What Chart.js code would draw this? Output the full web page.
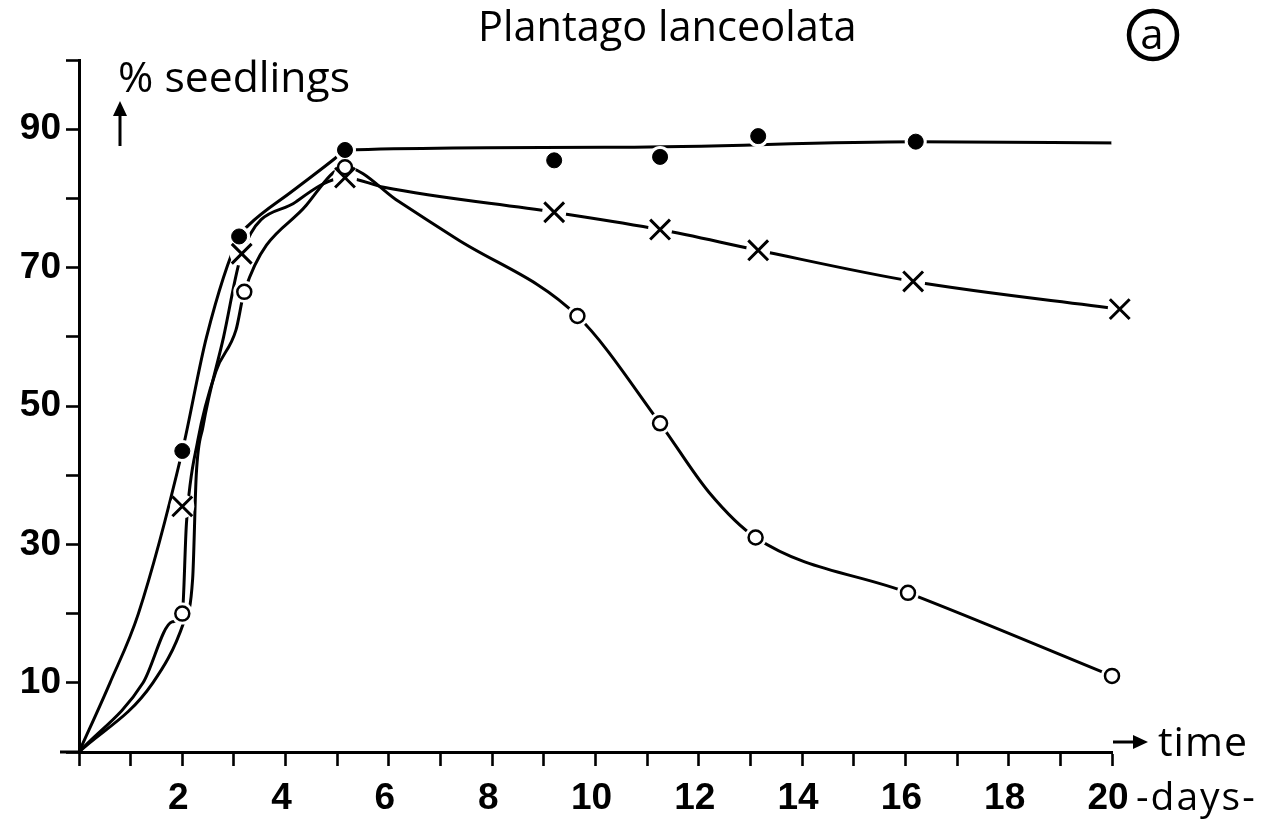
<!DOCTYPE html>
<html>
<head>
<meta charset="utf-8">
<title>Plantago lanceolata</title>
<script src="https://cdn.jsdelivr.net/npm/chart.js@4.4.1/dist/chart.umd.min.js"></script>
<style>
    html, body { margin: 0; padding: 0; background: #fff; }
    #wrap { width: 1275px; height: 830px; }
</style>
</head>
<body>
<div id="wrap"><canvas id="seedChart" width="1275" height="830"></canvas></div>
<script>
const filledDays = [2.0, 3.1, 5.15, 9.2, 11.25, 13.15, 16.2, 20.2];
const filledPct  = [43.5, 74.5, 87, 85.5, 86, 89, 88.2, 88];
const crossDays  = [2.0, 3.15, 5.15, 9.2, 11.25, 13.15, 16.15, 20.15];
const crossPct   = [35.5, 72, 83, 78, 75.5, 72.5, 68, 64];
const openDays   = [2.0, 3.2, 5.15, 9.65, 11.25, 13.1, 16.05, 20.0];
const openPct    = [20, 66.5, 84.5, 63, 47.5, 31, 23, 11];

// the hand-drawn curves (they start at the origin)
const filledCurveDays = [0, 0.6, 1.15, 2.0, 2.47, 3.1, 3.28, 4.14, 4.96, 5.15, 10.5, 16.2, 20.2];
const filledCurvePct  = [0, 10, 20, 43.5, 60, 74.5, 76.1, 81.1, 85.8, 87, 87.4, 88.2, 88];
const crossCurveDays  = [0, 1.43, 2.03, 2.2, 2.27, 2.4, 2.8, 3.15, 4.2, 5.15, 5.9, 9.2, 11.25, 13.15, 16.15, 20.15];
const crossCurvePct   = [0, 10, 18.8, 25, 40, 47, 60, 72, 79.5, 83, 81.6, 78, 75.5, 72.5, 68, 64];
const openCurveDays   = [0, 1.24, 1.8, 2.0, 2.08, 2.3, 2.65, 3.04, 3.2, 4.4, 5.15, 6.2, 7.3, 9.65, 11.25, 12.2, 13.1, 16.05, 20.0];
const openCurvePct    = [0, 10, 18.8, 20, 33, 45, 55, 61, 66.5, 79, 84.5, 79.5, 74.2, 63, 47.5, 37.5, 31, 23, 11];

const yLabelled = [10, 30, 50, 70, 90];
const xLabelled = [2, 4, 6, 8, 10, 12, 14, 16, 18, 20];

const toXY = (xs, ys) => xs.map((x, i) => ({ x: x, y: ys[i] }));

const curve = (xs, ys) => ({
    data: toXY(xs, ys),
    showLine: true,
    borderColor: '#000',
    borderWidth: 3,
    pointRadius: 0,
    cubicInterpolationMode: 'monotone',
    clip: false,
    order: 3
});

// white discs under the markers, so the lines stop short of them like in the print
const halo = (xs, ys, r) => ({
    data: toXY(xs, ys),
    pointRadius: r,
    pointBackgroundColor: '#fff',
    pointBorderWidth: 0,
    clip: false,
    order: 2
});

function fitFont(ctx, text, width, weight, family) {
    ctx.font = weight + ' 100px ' + family;
    const w = ctx.measureText(text).width;
    return weight + ' ' + (100 * width / w).toFixed(1) + 'px ' + family;
}

const annotations = {
    id: 'annotations',
    afterDraw(chart) {
        const ctx = chart.ctx;
        const fam = '"Open Sans", sans-serif';
        const x0 = chart.scales.x.getPixelForValue(0);
        const y0 = chart.scales.y.getPixelForValue(0);
        ctx.save();
        ctx.fillStyle = '#000';
        ctx.strokeStyle = '#000';
        ctx.textBaseline = 'alphabetic';
        ctx.textAlign = 'left';

        // x axis runs a little past the y axis on the left
        ctx.lineWidth = 3;
        ctx.beginPath();
        ctx.moveTo(60, y0);
        ctx.lineTo(x0, y0);
        ctx.stroke();

        // title
        ctx.font = fitFont(ctx, 'Plantago lanceolata', 379, 'normal', fam);
        ctx.fillText('Plantago lanceolata', 478, 41);

        // y axis label
        ctx.font = fitFont(ctx, '% seedlings', 232, 'normal', fam);
        ctx.fillText('% seedlings', 118, 92);

        // up arrow
        ctx.beginPath();
        ctx.moveTo(120, 146);
        ctx.lineTo(120, 112);
        ctx.stroke();
        ctx.beginPath();
        ctx.moveTo(120, 101);
        ctx.lineTo(127, 116);
        ctx.lineTo(113, 116);
        ctx.closePath();
        ctx.fill();

        // time arrow + label
        ctx.beginPath();
        ctx.moveTo(1113, 742);
        ctx.lineTo(1136, 742);
        ctx.stroke();
        ctx.beginPath();
        ctx.moveTo(1148, 742);
        ctx.lineTo(1133, 735);
        ctx.lineTo(1133, 749);
        ctx.closePath();
        ctx.fill();
        ctx.font = 'normal 41px ' + fam;
        ctx.letterSpacing = '1px';
        ctx.fillText('time', 1158, 756);

        ctx.font = 'normal 39px ' + fam;
        ctx.letterSpacing = '2px';
        ctx.fillText('-days-', 1136, 810);
        ctx.letterSpacing = '0px';

        // circled a
        ctx.lineWidth = 4.5;
        ctx.beginPath();
        ctx.arc(1153, 35, 24, 0, Math.PI * 2);
        ctx.stroke();
        ctx.textAlign = 'center';
        ctx.font = 'normal 42px ' + fam;
        ctx.fillText('a', 1152, 49);
        ctx.restore();
    }
};

const ctx = document.getElementById('seedChart');
new Chart(ctx, {
    type: 'scatter',
    data: {
        datasets: [
            {
                data: toXY(filledDays, filledPct),
                pointStyle: 'circle',
                pointRadius: 7.5,
                pointBackgroundColor: '#000',
                pointBorderColor: '#000',
                pointBorderWidth: 1,
                clip: false,
                order: 1
            },
            {
                data: toXY(crossDays, crossPct),
                pointStyle: 'crossRot',
                pointRadius: 14,
                pointBorderColor: '#000',
                pointBorderWidth: 3,
                clip: false,
                order: 1
            },
            {
                data: toXY(openDays, openPct),
                pointStyle: 'circle',
                pointRadius: 7,
                pointBackgroundColor: '#fff',
                pointBorderColor: '#000',
                pointBorderWidth: 2.5,
                clip: false,
                order: 1
            },
            halo(filledDays, filledPct, 11),
            halo(crossDays, crossPct, 12),
            halo(openDays, openPct, 11),
            curve(filledCurveDays, filledCurvePct),
            curve(crossCurveDays, crossCurvePct),
            curve(openCurveDays, openCurvePct)
        ]
    },
    options: {
        responsive: false,
        animation: false,
        events: [],
        layout: { padding: { top: 60, right: 163, left: 0, bottom: 0 } },
        plugins: {
            legend: { display: false },
            tooltip: { enabled: false },
            title: { display: false }
        },
        scales: {
            x: {
                type: 'linear',
                min: 0, max: 20,
                afterFit: (scale) => { scale.height = 78; },
                border: { display: true, color: '#000', width: 3 },
                grid: {
                    drawOnChartArea: false,
                    drawTicks: true,
                    tickLength: 14,
                    tickWidth: 2.6,
                    tickColor: '#000'
                },
                ticks: {
                    stepSize: 1,
                    autoSkip: false,
                    maxRotation: 0,
                    padding: 11,
                    labelOffset: -4,
                    color: '#000',
                    font: { family: '"Liberation Sans", Arial, sans-serif', size: 37, weight: 'bold' },
                    callback: (v) => (xLabelled.includes(v) ? String(v) : '')
                }
            },
            y: {
                type: 'linear',
                min: 0, max: 100,
                afterFit: (scale) => { scale.width = 79; },
                border: { display: true, color: '#000', width: 3 },
                grid: {
                    drawOnChartArea: false,
                    drawTicks: true,
                    tickLength: 13,
                    tickWidth: 2.6,
                    tickColor: '#000'
                },
                ticks: {
                    stepSize: 10,
                    autoSkip: false,
                    padding: 5,
                    color: '#000',
                    font: { family: '"Liberation Sans", Arial, sans-serif', size: 37, weight: 'bold' },
                    callback: (v) => (yLabelled.includes(v) ? String(v) : '')
                }
            }
        }
    },
    plugins: [annotations]
});
</script>
</body>
</html>
